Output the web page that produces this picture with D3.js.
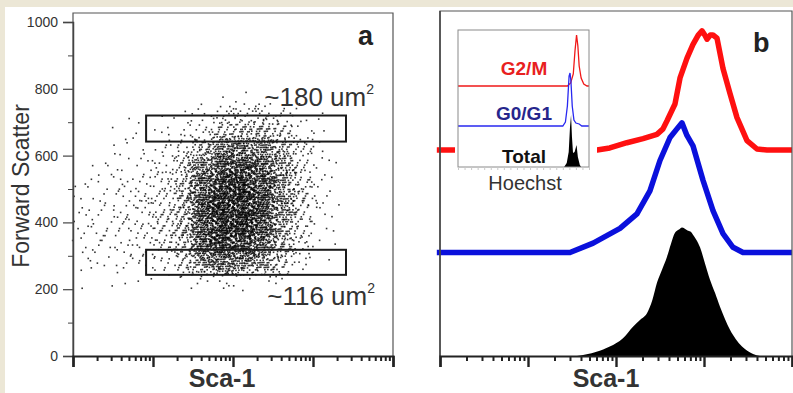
<!DOCTYPE html>
<html>
<head>
<meta charset="utf-8">
<script src="https://cdn.jsdelivr.net/npm/d3@7"></script>
<style>
  html, body { margin: 0; padding: 0; background: #ece7d6; }
  svg { display: block; font-family: Arial, "Liberation Sans", sans-serif; }
</style>
</head>
<body>
<svg id="chart" width="793" height="393"></svg>
<script>
// ---- panel a: Sca-1 vs forward scatter, dot density ----
// rows = forward scatter bins (top row 750-800 down to 200-250), cols = Sca-1 quarter decades (0..3.5)
const fscBinEdges = [800, 750, 700, 650, 600, 550, 500, 450, 400, 350, 300, 250, 200];
const scaDecadeEdges = [0, 0.25, 0.5, 0.75, 1, 1.25, 1.5, 1.75, 2, 2.25, 2.5, 2.75, 3, 3.25, 3.5];
const dotCounts = [
  [0, 0, 0, 0, 0, 0, 0, 1, 2, 1, 0, 0, 0, 0],
  [0, 0, 1, 0, 1, 2, 5, 10, 16, 15, 8, 4, 1, 0],
  [0, 1, 1, 1, 3, 6, 12, 28, 42, 38, 20, 7, 2, 0],
  [0, 1, 2, 3, 6, 12, 35, 80, 95, 80, 40, 12, 3, 0],
  [1, 2, 4, 6, 10, 24, 80, 135, 145, 115, 55, 16, 3, 0],
  [2, 4, 5, 7, 13, 32, 115, 170, 170, 140, 65, 20, 5, 0],
  [3, 5, 6, 9, 15, 38, 135, 190, 190, 150, 70, 22, 5, 0],
  [5, 6, 7, 10, 16, 40, 140, 200, 195, 150, 65, 18, 4, 0],
  [5, 7, 7, 10, 16, 40, 135, 190, 180, 135, 55, 14, 3, 0],
  [4, 6, 7, 9, 14, 33, 115, 160, 145, 100, 40, 10, 2, 0],
  [3, 4, 4, 6, 9, 20, 70, 95, 85, 55, 20, 5, 1, 0],
  [1, 1, 1, 1, 1, 2, 4, 5, 4, 2, 1, 0, 0, 0]
];
const gateSca = [8.2, 2585];
const gateUpperFsc = [642, 720];
const gateLowerFsc = [243, 318];
const fscTicks = [0, 200, 400, 600, 800, 1000];

// ---- panel b: Sca-1 histograms ----
const redSca = [0.92, 61, 85, 133, 203, 292, 340, 380, 468, 534, 641, 750, 860, 949, 1020, 1082, 1180, 1265, 1406, 1644, 1974, 2371, 3080, 4000, 5200, 10000];
const redCount = [0, 0, 2, 7, 11, 15, 20, 28, 44, 69, 88, 101, 110, 114, 110, 106, 110, 110, 107, 78, 54, 31, 9, 1, 0, 0];
const blueSca = [0.92, 30, 55, 111, 173, 243, 316, 411, 490, 562, 640, 750, 975, 1265, 1644, 2136, 2775, 10000];
const blueCount = [0, 0, 9, 23, 37, 59, 88, 110, 118, 124, 112, 102, 69, 40, 18, 5, 0, 0];
const blackSca = [36, 60, 85, 120, 156, 190, 225, 260, 292, 335, 380, 420, 468, 520, 562, 600, 650, 700, 750, 820, 901, 1030, 1170, 1340, 1520, 1740, 1974, 2300, 2703, 3100, 3606, 4329];
const blackCount = [0, 4, 9, 17, 28, 35, 41, 54, 70, 83, 95, 107, 118, 121, 123, 122, 120, 119, 116, 111, 104, 88, 73, 60, 47, 35, 25, 16, 9, 5, 2, 0];
const histOffsets = { red: 197, blue: 99, black: 0 };

// ---- inset: Hoechst ----
const hoeRedX = [0, 835, 860, 880, 893, 905, 915, 925, 940, 960, 985, 1000];
const hoeRedY = [0, 0, 3, 12, 35, 51, 40, 20, 8, 2, 0, 0];
const hoeBlueX = [0, 800, 820, 835, 848, 855, 862, 872, 885, 900, 925, 945, 1000];
const hoeBlueY = [0, 0, 4, 20, 50, 53, 45, 20, 6, 3, 2, 0, 0];
const hoeTotalX = [0, 810, 830, 845, 855, 863, 870, 878, 890, 905, 915, 930, 940, 1000];
const hoeTotalY = [0, 0, 4, 15, 40, 52, 30, 14, 15, 22, 10, 2, 0, 0];
const insetOffsets = { red: 81, blue: 41, black: 0 };

const svg = d3.select('#chart');
const ink = '#333';

svg.append('rect').attr('x', 5).attr('y', 7).attr('width', 788).attr('height', 386).attr('fill', '#fff');

// ===== panel a =====
const xA = d3.scaleLog().domain([1, 1e4]).range([73, 393]);
const yA = d3.scaleLinear().domain([0, 1000]).range([356, 22]);

// dots: each cell's count is spread around the cell centre (tent shape, under one cell each way)
// using a low-discrepancy sequence so neighbouring cells blend without visible edges
const gR = 1.1673039782614187;
const qa = [1 / gR, 1 / (gR * gR), 1 / Math.pow(gR, 3), 1 / Math.pow(gR, 4)];
const dots = [];
let n = 0;
dotCounts.forEach((row, r) => {
  row.forEach((c, k) => {
    const w = scaDecadeEdges[k + 1] - scaDecadeEdges[k];
    const h = fscBinEdges[r] - fscBinEdges[r + 1];
    const cx = scaDecadeEdges[k] + w / 2;
    const cy = fscBinEdges[r + 1] + h / 2;
    for (let i = 0; i < c; i++, n++) {
      const q = qa.map(a => (0.5 + a * n) % 1);
      const dec = cx + (q[0] + q[1] - 1) * w * 0.85;
      const fsc = cy + (q[2] + q[3] - 1) * h * 0.85;
      dots.push([Math.pow(10, dec), fsc]);
    }
  });
});

svg.append('g')
  .selectAll('rect')
  .data(dots)
  .enter()
  .append('rect')
  .attr('x', d => xA(d[0]) - 0.8)
  .attr('y', d => yA(d[1]) - 0.8)
  .attr('width', 1.6)
  .attr('height', 1.6)
  .attr('fill', '#000')
  .attr('opacity', 0.8);

// gates
[gateUpperFsc, gateLowerFsc].forEach(g => {
  svg.append('rect')
    .attr('x', xA(gateSca[0]))
    .attr('y', yA(g[1]))
    .attr('width', xA(gateSca[1]) - xA(gateSca[0]))
    .attr('height', yA(g[0]) - yA(g[1]))
    .attr('fill', 'none')
    .attr('stroke', '#1a1a1a')
    .attr('stroke-width', 2);
});

// frame a
svg.append('path')
  .attr('d', 'M73,356V13H393V356')
  .attr('fill', 'none')
  .attr('stroke', '#555')
  .attr('stroke-width', 1.2);

// y axis a
const yAxisA = svg.append('g').attr('transform', 'translate(73,0)')
  .call(d3.axisLeft(yA).tickValues(fscTicks).tickSize(10).tickPadding(5).tickFormat(d3.format('d')));
yAxisA.select('.domain').attr('stroke', '#444').attr('stroke-width', 1.5);
yAxisA.selectAll('.tick line').attr('stroke', '#444').attr('stroke-width', 1.2);
yAxisA.selectAll('.tick text').attr('font-size', 14).attr('fill', ink).attr('font-family', 'Arial, "Liberation Sans", sans-serif');
svg.append('g').attr('transform', 'translate(73,0)')
  .call(d3.axisLeft(yA).tickValues(d3.range(100, 1000, 200)).tickSize(5).tickFormat(''))
  .call(g => g.select('.domain').remove())
  .selectAll('line').attr('stroke', '#444').attr('stroke-width', 1);

function logAxis(x, y0) {
  const dec = [1, 10, 100, 1000, 10000];
  const minors = [];
  for (let e = 0; e < 4; e++) for (let m = 2; m < 10; m++) minors.push(m * Math.pow(10, e));
  const g = svg.append('g').attr('transform', `translate(0,${y0})`);
  g.call(d3.axisBottom(x).tickValues(dec).tickSize(11).tickFormat(''));
  g.select('.domain').attr('stroke', '#222').attr('stroke-width', 2.2);
  g.selectAll('.tick line').attr('stroke', '#222').attr('stroke-width', 2.4);
  const gm = svg.append('g').attr('transform', `translate(0,${y0})`);
  gm.call(d3.axisBottom(x).tickValues(minors).tickSize(5).tickFormat(''));
  gm.select('.domain').remove();
  gm.selectAll('.tick line').attr('stroke', '#222').attr('stroke-width', 2);
}
logAxis(xA, 356);

// labels a
svg.append('text').attr('x', 373).attr('y', 45).attr('text-anchor', 'end')
  .attr('font-size', 27).attr('font-weight', 'bold').attr('fill', '#222').text('a');

function areaLabel(txt, xEnd, yBase) {
  const t = svg.append('text').attr('x', xEnd).attr('y', yBase).attr('text-anchor', 'end')
    .attr('font-size', 26).attr('fill', ink);
  t.append('tspan').text(txt);
  t.append('tspan').attr('font-size', 14).attr('dy', -12).text('2');
}
areaLabel('~180 um', 374, 106);
areaLabel('~116 um', 375, 305);

svg.append('text')
  .attr('transform', 'translate(29,186) rotate(-90)')
  .attr('text-anchor', 'middle')
  .attr('font-size', 23)
  .attr('fill', ink)
  .text('Forward Scatter');

svg.append('text').attr('x', 222).attr('y', 387).attr('text-anchor', 'middle')
  .attr('font-size', 25).attr('font-weight', 'bold').attr('fill', ink).text('Sca-1');

// ===== panel b =====
const xB = d3.scaleLog().domain([1, 1e4]).range([440, 792]);
const yB = d3.scaleLinear().domain([0, 330]).range([356, 11]);

const blackArea = d3.area()
  .x(d => xB(d[0]))
  .y0(yB(histOffsets.black))
  .y1(d => yB(histOffsets.black + d[1]))
  .curve(d3.curveMonotoneX);
svg.append('path')
  .datum(d3.zip(blackSca, blackCount))
  .attr('d', blackArea)
  .attr('fill', '#000');

function histLine(xs, ys, off, color) {
  const line = d3.line().x(d => xB(d[0])).y(d => yB(off + d[1]));
  svg.append('path')
    .datum(d3.zip(xs, ys))
    .attr('d', line)
    .attr('fill', 'none')
    .attr('stroke', color)
    .attr('stroke-width', 5.5)
    .attr('stroke-linejoin', 'round');
}
histLine(blueSca, blueCount, histOffsets.blue, '#0a10dc');
histLine(redSca, redCount, histOffsets.red, '#ff1010');

// frame b
svg.append('path')
  .attr('d', 'M440,356V11H792V356')
  .attr('fill', 'none')
  .attr('stroke', '#555')
  .attr('stroke-width', 1.2);
svg.append('line').attr('x1', 440).attr('x2', 440).attr('y1', 11).attr('y2', 356)
  .attr('stroke', '#444').attr('stroke-width', 1.5);
logAxis(xB, 356);

svg.append('text').attr('x', 753).attr('y', 52)
  .attr('font-size', 27).attr('font-weight', 'bold').attr('fill', '#222').text('b');
svg.append('text').attr('x', 606).attr('y', 387).attr('text-anchor', 'middle')
  .attr('font-size', 25).attr('font-weight', 'bold').attr('fill', ink).text('Sca-1');

// ===== inset =====
const xIn = d3.scaleLinear().domain([0, 1000]).range([458, 589]);
const yIn = d3.scaleLinear().domain([0, 137]).range([167, 30]);

svg.append('rect').attr('x', 455).attr('y', 24).attr('width', 142).attr('height', 172).attr('fill', '#fff');

svg.append('path')
  .datum(d3.zip(hoeTotalX, hoeTotalY))
  .attr('d', d3.area().x(d => xIn(d[0])).y0(yIn(0)).y1(d => yIn(d[1])))
  .attr('fill', '#000');

function insetLine(xs, ys, off, color) {
  svg.append('path')
    .datum(d3.zip(xs, ys))
    .attr('d', d3.line().x(d => xIn(d[0])).y(d => yIn(off + d[1])))
    .attr('fill', 'none')
    .attr('stroke', color)
    .attr('stroke-width', 1.3);
}
insetLine(hoeRedX, hoeRedY, insetOffsets.red, '#f01818');
insetLine(hoeBlueX, hoeBlueY, insetOffsets.blue, '#2828f0');

svg.append('rect').attr('x', 458).attr('y', 30).attr('width', 131).attr('height', 137)
  .attr('fill', 'none').attr('stroke', '#8a8a8a').attr('stroke-width', 1);

const insetAxis = svg.append('g').attr('transform', 'translate(0,167)')
  .call(d3.axisBottom(xIn).ticks(20).tickSize(3).tickFormat(''));
insetAxis.select('.domain').remove();
insetAxis.selectAll('line').attr('stroke', '#c8c8c8');

const insetLabels = [
  { t: 'G2/M', y: 75, c: '#e82020' },
  { t: 'G0/G1', y: 120, c: '#26268c' },
  { t: 'Total', y: 163, c: '#111' }
];
svg.selectAll('.inlab')
  .data(insetLabels)
  .enter()
  .append('text')
  .attr('x', 524)
  .attr('y', d => d.y)
  .attr('text-anchor', 'middle')
  .attr('font-size', 19)
  .attr('font-weight', 'bold')
  .attr('fill', d => d.c)
  .text(d => d.t);

svg.append('text').attr('x', 525).attr('y', 190).attr('text-anchor', 'middle')
  .attr('font-size', 20).attr('fill', ink).text('Hoechst');
</script>
</body>
</html>
